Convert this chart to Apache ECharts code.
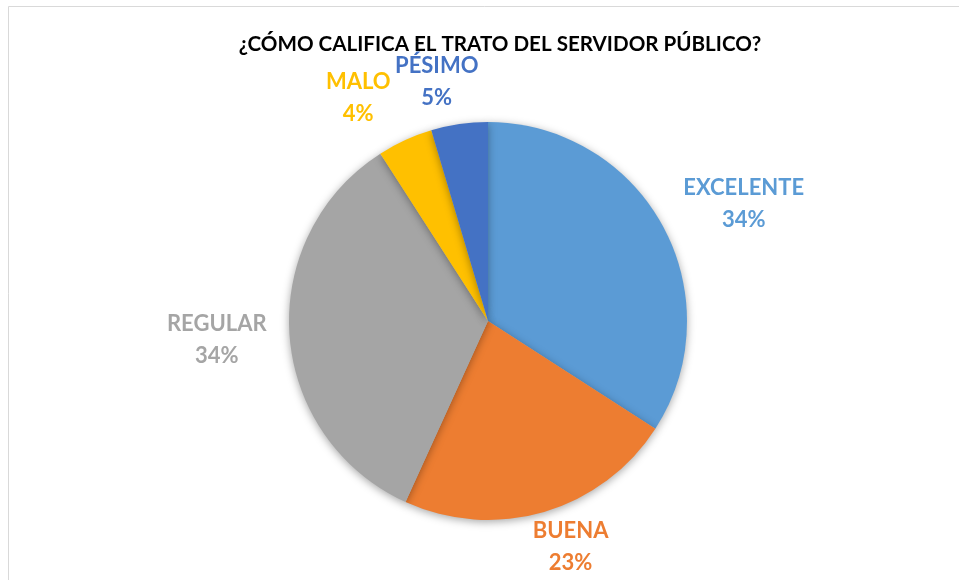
<!DOCTYPE html>
<html>
<head>
<meta charset="utf-8">
<script src="https://cdn.jsdelivr.net/npm/echarts@6/dist/echarts.min.js"></script>
<style>
  html, body { margin: 0; padding: 0; background: #fff; }
  #chart { width: 959px; height: 580px; }
</style>
</head>
<body>
<div id="chart"></div>
<script>
// 数据
var categories = ['EXCELENTE', 'BUENA', 'REGULAR', 'MALO', 'PÉSIMO'];
var values = [34.1, 22.7, 34.1, 4.5, 4.6];
var colors = ['#5B9BD5', '#ED7D31', '#A5A5A5', '#FFC000', '#4472C4'];
var titleText = '¿CÓMO CALIFICA EL TRATO DEL SERVIDOR PÚBLICO?';

// 标签微调
var labelNudge = [[-2, -12], [-22, 16], [-3, 3], [62, -72], [27, -22]];

var font = 'Lato, "Open Sans", sans-serif';

var pieData = categories.map(function (name, i) {
    return {
        name: name,
        value: values[i],
        itemStyle: { color: colors[i] },
        label: { color: colors[i] }
    };
});

var option = {
    animation: false,
    backgroundColor: '#fff',
    title: {
        text: titleText,
        left: 495,
        top: 29,
        textAlign: 'center',
        textStyle: { fontFamily: font, fontWeight: 'bold', fontSize: 20.6, color: '#000' }
    },
    graphic: [{
        type: 'rect',
        shape: { x: 8.5, y: 6.5, width: 1000, height: 700 },
        style: { fill: 'none', stroke: '#d9d9d9', lineWidth: 1 },
        silent: true
    }],
    series: [{
        type: 'pie',
        center: [488, 321],
        radius: 199,
        startAngle: 90,
        clockwise: true,
        percentPrecision: 0,
        data: pieData,
        itemStyle: {
            shadowBlur: 8,
            shadowOffsetY: 2,
            shadowColor: 'rgba(0,0,0,0.35)'
        },
        label: {
            show: true,
            position: 'outside',
            formatter: '{b}\n{d}%',
            fontFamily: font,
            fontWeight: 'bold',
            fontSize: 22,
            lineHeight: 32
        },
        labelLine: { show: false, length: 20, length2: 0 },
        labelLayout: function (p) {
            var r = p.labelRect;
            var n = labelNudge[p.dataIndex];
            return {
                x: r.x + r.width / 2 + n[0],
                y: r.y + r.height / 2 + n[1],
                align: 'center',
                verticalAlign: 'middle'
            };
        },
        emphasis: { disabled: true }
    }]
};

var myChart = echarts.init(document.getElementById('chart'));
myChart.setOption(option);
</script>
</body>
</html>
